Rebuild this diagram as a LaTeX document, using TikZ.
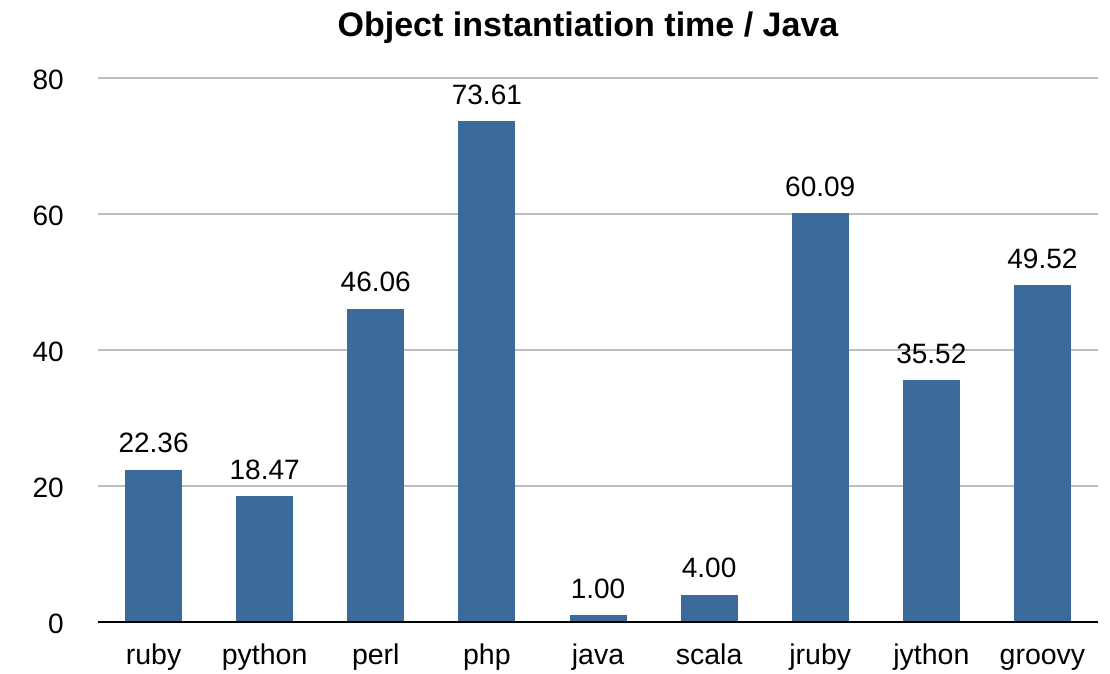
\documentclass[tikz,border=0pt]{standalone}
\usepackage{fontspec}
\setmainfont{Liberation Sans}
\begin{document}
\begin{tikzpicture}[x=1pt,y=1pt,
  barbox/.style={fill=barblue, draw=none, inner sep=0pt, outer sep=0pt,
    minimum width=57pt, anchor=south},
  vallabel/.style={font=\fontsize{28}{32}\selectfont, anchor=base, inner sep=0pt},
  catlabel/.style={font=\fontsize{28.5}{32}\selectfont, anchor=base, inner sep=0pt},
  ticklabel/.style={font=\fontsize{28}{32}\selectfont, anchor=east, inner sep=0pt},
  gridline/.style={draw=gridgray, line width=2pt},
  axisline/.style={draw=black, line width=2.2pt}]
\definecolor{barblue}{RGB}{59,106,155}
\definecolor{gridgray}{RGB}{190,190,190}
\useasboundingbox (0,0) rectangle (1110,673);
% title
\node[font=\bfseries\fontsize{34}{40}\selectfont, anchor=base, inner sep=0pt] (title) at (588,636) {Object instantiation time / Java};
% horizontal grid and value axis labels
\foreach \v in {20,40,60,80} {
  \coordinate (gl-\v) at (98,51+6.8*\v);
  \coordinate (gr-\v) at (1098,51+6.8*\v);
  \draw[gridline] (gl-\v) -- (gr-\v);
  \node[ticklabel] (tick-\v) at (64,49+6.8*\v) {\v};
}
\node[ticklabel] (tick-0) at (64,49) {0};
% bars with their values and categories
\foreach \name/\val [count=\i] in {ruby/22.36, python/18.47, perl/46.06, php/73.61, java/1.00, scala/4.00, jruby/60.09, jython/35.52, groovy/49.52} {
  \pgfmathsetmacro{\xc}{98+111.11*(\i-0.5)}
  \pgfmathsetmacro{\h}{6.8*\val}
  \node[barbox, minimum height=\h pt] (bar-\i) at (\xc,51) {};
  \node[vallabel] (val-\i) at ([yshift=17pt]bar-\i.north) {\val};
  \node[catlabel] (cat-\i) at (\xc,9) {\name};
}
% category axis
\coordinate (axl) at (98,51);
\coordinate (axr) at (1098,51);
\draw[axisline] (axl) -- (axr);
\end{tikzpicture}
\end{document}
